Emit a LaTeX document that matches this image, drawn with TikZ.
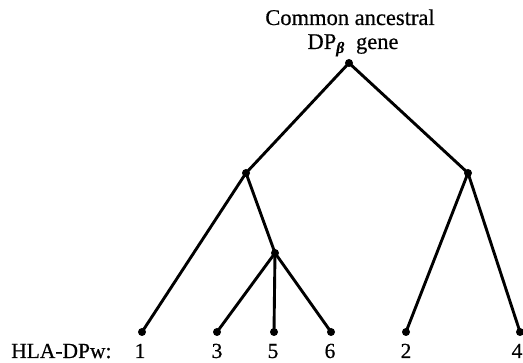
\documentclass[tikz,border=0pt]{standalone}
\usepackage{fontspec}
\setmainfont{Liberation Serif}[FakeBold=0.5]
\begin{document}
\begin{tikzpicture}[x=1pt,y=-1pt,
  branch/.style={line width=2.9pt},
  dot/.style={circle,fill,inner sep=0pt,minimum size=8pt},
  title/.style={anchor=base,inner sep=0pt,font=\fontsize{22.5}{26}\selectfont},
  leaflabel/.style={anchor=base,inner sep=0pt,font=\fontsize{21.5}{25}\selectfont}]
\useasboundingbox (0,0) rectangle (523,363);

% title above the root
\node[title] (t1) at (350,25) {Common ancestral};
\node[title] (t2) at (353,49) {DP\textsubscript{\bfseries\itshape β}\hspace{0.5em}gene};

% tree nodes
\node[dot] (root) at (349,63) {};
\node[dot] (a) at (246,173) {};
\node[dot] (b) at (468,173) {};
\node[dot] (c) at (275,253) {};
\node[dot] (l1) at (142,332) {};
\node[dot] (l3) at (217,332) {};
\node[dot] (l5) at (274,332) {};
\node[dot] (l6) at (331,332) {};
\node[dot] (l2) at (406,332) {};
\node[dot] (l4) at (520,332) {};

% branches
\draw[branch] (root.center) -- (a.center);
\draw[branch] (root.center) -- (b.center);
\draw[branch] (a.center) -- (l1.center);
\draw[branch] (a.center) -- (c.center);
\draw[branch] (c.center) -- (l3.center);
\draw[branch] (c.center) -- (l5.center);
\draw[branch] (c.center) -- (l6.center);
\draw[branch] (b.center) -- (l2.center);
\draw[branch] (b.center) -- (l4.center);

% allele labels
\node[leaflabel,anchor=base west] (hla) at (11,358) {HLA-DPw:};
\node[leaflabel] (n1) at (140,358) {1};
\node[leaflabel] (n3) at (217,358) {3};
\node[leaflabel] (n5) at (273,358) {5};
\node[leaflabel] (n6) at (330,358) {6};
\node[leaflabel] (n2) at (406,358) {2};
\node[leaflabel] (n4) at (517,358) {4};
\end{tikzpicture}
\end{document}
